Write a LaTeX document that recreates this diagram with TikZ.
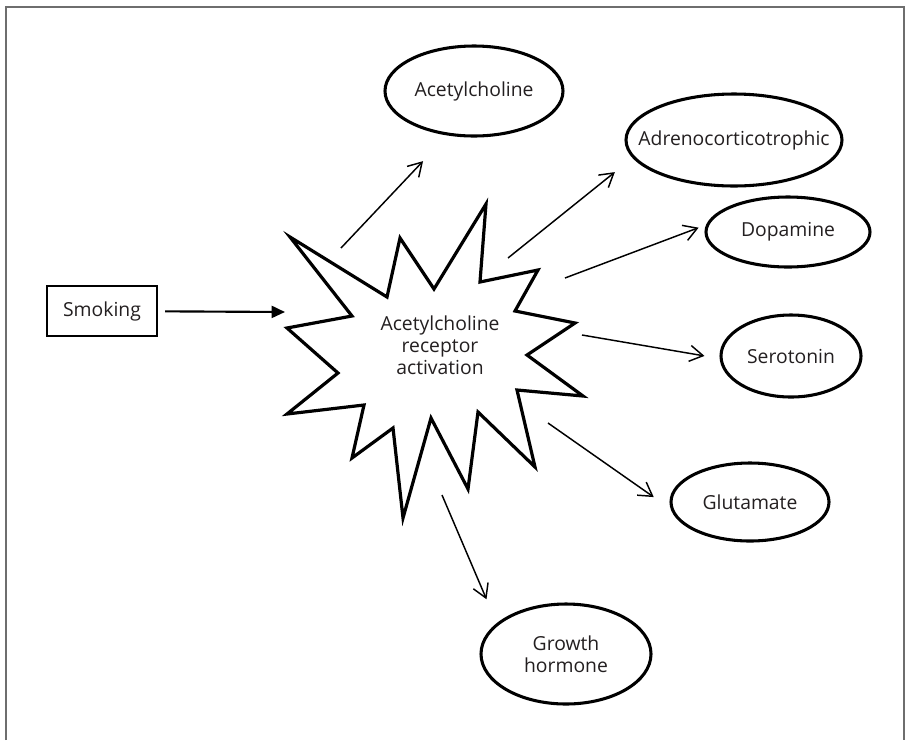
\documentclass[tikz,border=0pt]{standalone}
\usepackage{fontspec}
\setmainfont{Open Sans}
\usetikzlibrary{arrows.meta,shapes.geometric}

\definecolor{framegray}{RGB}{110,110,110}
\definecolor{textgray}{RGB}{35,31,32}

\begin{document}
\begin{tikzpicture}[
  x=0.75pt, y=-0.75pt,
  every node/.style={font=\fontsize{14.5}{16.5}\selectfont, text=textgray},
  hormone/.style={ellipse, draw, line width=2.3pt, inner sep=0pt, align=center},
  cause/.style={rectangle, draw, line width=1.6pt, minimum width=83pt, minimum height=37pt, inner sep=0pt},
  release/.style={-{Straight Barb[length=10pt,width=12pt]}, line width=1.1pt},
  drive/.style={-{Triangle[length=10pt,width=9pt]}, line width=1.6pt}
]
  \useasboundingbox (0,0) rectangle (906,740);
  \draw[framegray, line width=1pt] (6,740) -- (6,7) -- (904,7) -- (904,740);

  \draw[line width=2.4pt] (290,237) -- (387,297) -- (400,238) -- (434,289) -- (486,204)
    -- (480,282) -- (538,270) -- (515,311) -- (575,323) -- (527,355) -- (583,396)
    -- (517,390) -- (535,467) -- (478,412) -- (468,489) -- (431,418) -- (403,518)
    -- (393,428) -- (352,458) -- (364,405) -- (287,414) -- (338,373) -- (287,328)
    -- (352,316) -- cycle;

  \node[cause] (smoking) at (102,311) {Smoking};
  \node[align=center] (burst) at (440,345) {Acetylcholine\\receptor\\activation};

  \node[hormone, minimum width=133.5pt, minimum height=67.5pt] (acetyl) at (474,91) {Acetylcholine};
  \node[hormone, inner xsep=-16pt, minimum width=162pt, minimum height=69pt] (adreno) at (734,140) {Adrenocorticotrophic};
  \node[hormone, minimum width=123pt, minimum height=52.5pt] (dopa) at (788,232) {Dopamine};
  \node[hormone, minimum width=105pt, minimum height=61.5pt] (sero) at (791,356) {Serotonin};
  \node[hormone, minimum width=118.5pt, minimum height=58.5pt] (gluta) at (750,502) {Glutamate};
  \node[hormone, minimum width=127.5pt, minimum height=75pt] (growth) at (566,654) {Growth\\hormone};

  \coordinate (in) at (285,312);
  \coordinate (s1) at (341,248);
  \coordinate (s2) at (508,258);
  \coordinate (s3) at (565,278);
  \coordinate (s4) at (582,335);
  \coordinate (s5) at (548,423);
  \coordinate (s6) at (442,495);

  \draw[drive, shorten <=5pt] (smoking) -- (in);
  \draw[release, shorten >=26.5pt] (s1) -- (acetyl.239);
  \draw[release, shorten >=17pt] (s2) -- (adreno.190);
  \draw[release, shorten >=6pt] (s3) -- (dopa.175);
  \draw[release, shorten >=11.5pt] (s4) -- (sero.182);
  \draw[release, shorten >=15.5pt] (s5) -- (gluta.185);
  \draw[release, shorten >=19.5pt] (s6) -- (growth.156);
\end{tikzpicture}
\end{document}
